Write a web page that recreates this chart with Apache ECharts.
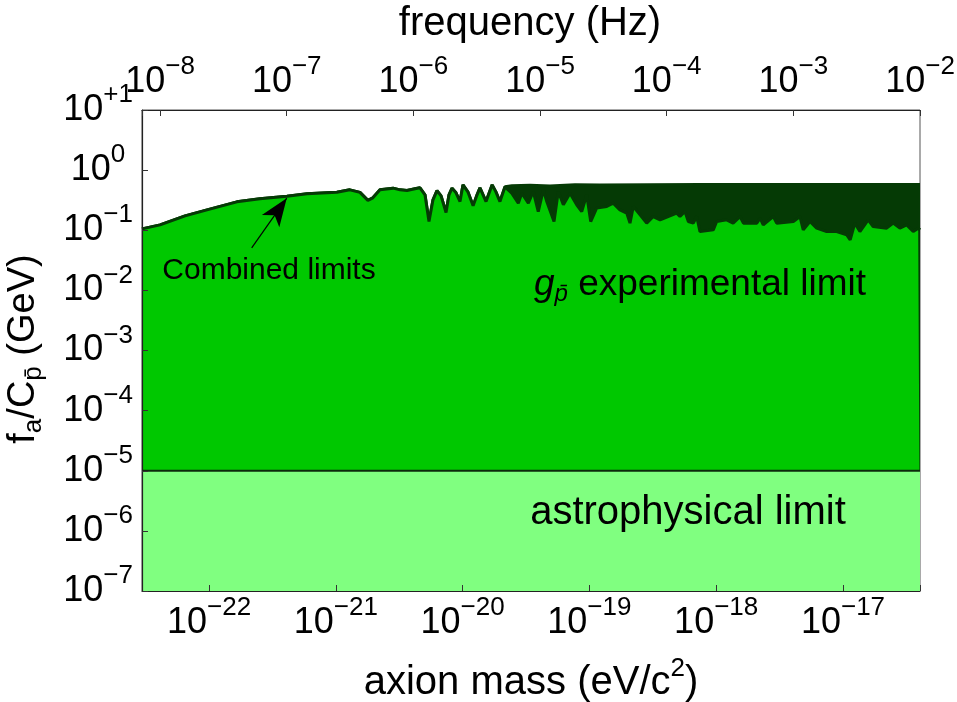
<!DOCTYPE html>
<html>
<head>
<meta charset="utf-8">
<script src="https://cdn.jsdelivr.net/npm/echarts@6/dist/echarts.min.js"></script>
<style>
html,body{margin:0;padding:0;background:#fff;}
#chart{width:957px;height:702px;}
</style>
</head>
<body>
<div id="chart"></div>
<script>
// ---------- data ----------
// axes ranges
const massRange = [2.96e-23, 4.05e-17];      // eV/c^2 (bottom axis)
const freqRange = [7.2e-9, 1e-2];            // Hz (top axis)
const fRange = [1e-7, 10];                   // GeV (left axis)
// tick exponents that carry labels
const massTickExps = [-22, -21, -20, -19, -18, -17];
const freqTickExps = [-8, -7, -6, -5, -4, -3, -2];
const fTickExps = [-7, -6, -5, -4, -3, -2, -1, 0, 1];

// combined-limit line (low-mass part, where both boundaries coincide)
const massLine = [2.96e-23, 4.11e-23, 6.47e-23, 9.64e-23, 1.66e-22, 2.52e-22, 4.12e-22, 5.93e-22,
  1.02e-21, 1.29e-21, 1.55e-21, 1.79e-21, 1.96e-21, 2.23e-21, 2.83e-21, 3.21e-21, 3.64e-21,
  4.21e-21, 4.61e-21, 5.05e-21, 5.43e-21, 5.84e-21, 6.28e-21, 6.76e-21, 7.40e-21, 7.81e-21,
  8.25e-21, 8.87e-21, 9.54e-21, 1.007e-20, 1.10e-20, 1.21e-20, 1.30e-20, 1.37e-20, 1.53e-20,
  1.71e-20, 1.83e-20, 1.97e-20, 2.16e-20];
const limitLine = [0.1055, 0.123, 0.1736, 0.2185, 0.297, 0.333, 0.3665, 0.403,
  0.427, 0.470, 0.427, 0.3145, 0.346, 0.470, 0.5016, 0.470, 0.4576,
  0.4885, 0.5076, 0.388, 0.1396, 0.3205, 0.4576, 0.3736, 0.197, 0.388,
  0.5016, 0.419, 0.300, 0.569, 0.4354, 0.2547, 0.388, 0.5076, 0.300,
  0.569, 0.4354, 0.300, 0.5275];

// upper envelope of the noisy band (high-mass part)
const massUpper = [2.45e-20, 3.40e-20, 4.89e-20, 7.70e-20, 1.21e-19, 3.01e-19, 7.45e-19,
  2.22e-18, 6.59e-18, 1.96e-17, 4.05e-17];
const limitUpper = [0.55, 0.56, 0.545, 0.57, 0.565, 0.57, 0.575, 0.575, 0.578, 0.578, 0.578];

// lower (experimental g_p) boundary of the noisy band (high-mass part)
const massLower = [2.23e-20, 2.44e-20, 2.75e-20, 2.93e-20, 3.30e-20, 3.61e-20, 3.95e-20, 4.33e-20,
  4.61e-20, 5.26e-20, 5.68e-20, 6.23e-20, 7.03e-20, 7.94e-20, 8.70e-20, 9.52e-20, 1.024e-19,
  1.14e-19, 1.37e-19, 1.54e-19, 1.74e-19, 1.97e-19, 2.09e-19, 2.22e-19, 2.51e-19, 2.83e-19,
  3.19e-19, 3.61e-19, 4.88e-19, 5.18e-19, 5.67e-19, 6.03e-19, 6.60e-19, 7.02e-19, 7.45e-19,
  9.49e-19, 1.009e-18, 1.21e-18, 1.36e-18, 1.54e-18, 1.64e-18, 2.09e-18, 2.22e-18, 2.35e-18,
  2.82e-18, 3.00e-18, 4.06e-18, 4.58e-18, 4.86e-18, 5.49e-18, 6.20e-18, 7.44e-18, 8.92e-18,
  1.07e-17, 1.14e-17, 1.24e-17, 1.36e-17, 1.58e-17, 1.73e-17, 2.21e-17, 2.49e-17, 2.81e-17,
  3.18e-17, 3.58e-17, 3.92e-17, 4.05e-17];
const limitLower = [0.5336, 0.4143, 0.2825, 0.414, 0.2825, 0.4405, 0.2047, 0.470,
  0.300, 0.1396, 0.4405, 0.2647, 0.414, 0.2647, 0.2047, 0.388, 0.1396,
  0.2332, 0.248, 0.2825, 0.2185, 0.1925, 0.1313, 0.248, 0.1804, 0.1313,
  0.169, 0.149, 0.1925, 0.169, 0.2047, 0.1396, 0.1313, 0.169, 0.0951,
  0.1016, 0.1396, 0.149, 0.1313, 0.169, 0.1313, 0.1313, 0.159, 0.123,
  0.169, 0.1313, 0.1396, 0.169, 0.1016, 0.1396, 0.1084, 0.0951, 0.0951,
  0.0838, 0.0692, 0.1313, 0.0951, 0.149, 0.1152, 0.1084, 0.1313, 0.1084,
  0.123, 0.0951, 0.1084, 0.1016];

// astrophysical limit
const astroLimit = 1e-5;

// arrow annotation "Combined limits": tail and head in data coordinates
const arrowTail = [2.17e-22, 0.051];
const arrowHead = [4.10e-22, 0.342];

// ---------- build ----------
const FONT = '"Liberation Sans", Arial, Helvetica, sans-serif';
const zip = (xs, ys) => xs.map((x, i) => [x, ys[i]]);
const upperData = zip(massLine, limitLine).concat(zip(massUpper, limitUpper));
const lowerData = zip(massLine, limitLine).concat(zip(massLower, limitLower));
const astroData = [[massRange[0], astroLimit], [massRange[1], astroLimit]];

function expLabel(allowed) {
  return function (v) {
    const l = Math.log10(v);
    const e = Math.round(l);
    if (Math.abs(l - e) > 1e-6 || allowed.indexOf(e) < 0) return '';
    const s = e > 0 ? '+' + e : (e < 0 ? '\u2212' + (-e) : '0');
    return '{b|10}{s|' + s + '}';
  };
}
const tickRich = {
  b: { fontSize: 36, fontFamily: FONT, color: '#000' },
  s: { fontSize: 26, fontFamily: FONT, color: '#000', padding: [0, 0, 30, 0] }
};

const DARK = '#053a05';
const chart = echarts.init(document.getElementById('chart'), null, { renderer: 'canvas' });
chart.setOption({
  animation: false,
  backgroundColor: '#fff',
  grid: { left: 142, right: 37, top: 110, bottom: 111, containLabel: false, outerBoundsMode: 'none',
          show: true, borderColor: '#555', borderWidth: 1, backgroundColor: 'transparent' },
  xAxis: [{
    type: 'log', logBase: 10, min: massRange[0], max: massRange[1], position: 'bottom', z: 10,
    axisLine: { show: true, onZero: false, lineStyle: { color: '#222', width: 1.2 } },
    axisTick: { show: true, inside: true, length: 6, lineStyle: { color: '#333', width: 1 } },
    minorTick: { show: false }, splitLine: { show: false },
    axisLabel: { margin: 4, formatter: expLabel(massTickExps), rich: tickRich, showMinLabel: true, showMaxLabel: true }
  }, {
    type: 'log', logBase: 10, min: freqRange[0], max: freqRange[1], position: 'top', z: 10,
    axisLine: { show: true, onZero: false, lineStyle: { color: '#222', width: 1.2 } },
    axisTick: { show: true, inside: true, length: 6, lineStyle: { color: '#333', width: 1 } },
    splitLine: { show: false },
    axisLabel: { margin: 0, formatter: expLabel(freqTickExps), rich: tickRich, showMinLabel: true, showMaxLabel: true }
  }],
  yAxis: [{
    type: 'log', logBase: 10, min: fRange[0], max: fRange[1], z: 10,
    axisLine: { show: true, onZero: false, lineStyle: { color: '#222', width: 1.2 } },
    axisTick: { show: true, inside: true, length: 6, lineStyle: { color: '#333', width: 1 } },
    splitLine: { show: false },
    axisLabel: { margin: 44, align: 'center', formatter: expLabel(fTickExps), rich: tickRich, showMinLabel: true, showMaxLabel: true }
  }],
  series: [{
    name: 'Combined limits (upper envelope)',
    type: 'line', xAxisIndex: 0, yAxisIndex: 0, z: 2,
    data: upperData, showSymbol: false, symbol: 'none', smooth: false, silent: true,
    lineStyle: { color: DARK, width: 3 },
    areaStyle: { color: DARK, opacity: 1, origin: 'start' }
  }, {
    name: 'g_p experimental limit',
    type: 'line', xAxisIndex: 0, yAxisIndex: 0, z: 3,
    data: lowerData, showSymbol: false, symbol: 'none', smooth: false, silent: true,
    lineStyle: { color: DARK, width: 3 },
    areaStyle: { color: '#00c800', opacity: 1, origin: 'start' },
    markLine: {
      silent: true, symbol: ['none', 'arrow'], symbolSize: [16, 28],
      lineStyle: { color: '#000', width: 1.2, type: 'solid' },
      label: { show: false },
      data: [[{ coord: arrowTail }, { coord: arrowHead }]]
    }
  }, {
    name: 'astrophysical limit',
    type: 'line', xAxisIndex: 0, yAxisIndex: 0, z: 4,
    data: astroData, showSymbol: false, symbol: 'none', silent: true,
    lineStyle: { color: '#0c2a0c', width: 2 },
    areaStyle: { color: '#80ff80', opacity: 1, origin: 'start' }
  }],
  graphic: [{
    type: 'text', x: 530, y: 24, z: 100,
    style: { text: 'frequency (Hz)', font: '40px ' + FONT, fill: '#000', align: 'center', verticalAlign: 'middle' }
  }, {
    type: 'text', x: 531, y: 683, z: 100,
    style: { text: '{m|axion mass (eV/c}{s|2}{m|)}', align: 'center', verticalAlign: 'middle',
      rich: { m: { fontSize: 40, fontFamily: FONT, color: '#000' },
              s: { fontSize: 26, fontFamily: FONT, color: '#000', padding: [0, 0, 28, 0] } } }
  }, {
    type: 'text', x: 24, y: 349, rotation: Math.PI / 2, z: 100,
    style: { text: '{m|f}{s|a}{m|/C}{s|p\u0304}{m| (GeV)}', align: 'center', verticalAlign: 'middle',
      rich: { m: { fontSize: 38, fontFamily: FONT, color: '#000' },
              s: { fontSize: 26, fontFamily: FONT, color: '#000', padding: [20, 0, 0, 0] } } }
  }, {
    type: 'text', x: 700, y: 285, z: 100,
    style: { text: '{g|g}{s|p\u0304}{m| experimental limit}', align: 'center', verticalAlign: 'middle',
      rich: { g: { fontSize: 37, fontFamily: FONT, fontStyle: 'italic', color: '#000' },
              s: { fontSize: 24, fontFamily: FONT, fontStyle: 'italic', color: '#000', padding: [18, 0, 0, 0] },
              m: { fontSize: 37, fontFamily: FONT, color: '#000' } } }
  }, {
    type: 'text', x: 688, y: 513, z: 100,
    style: { text: 'astrophysical limit', font: '40px ' + FONT, fill: '#000', align: 'center', verticalAlign: 'middle' }
  }, {
    type: 'text', x: 269, y: 271, z: 100,
    style: { text: 'Combined limits', font: '30px ' + FONT, fill: '#000', align: 'center', verticalAlign: 'middle' }
  }]
});
</script>
</body>
</html>
